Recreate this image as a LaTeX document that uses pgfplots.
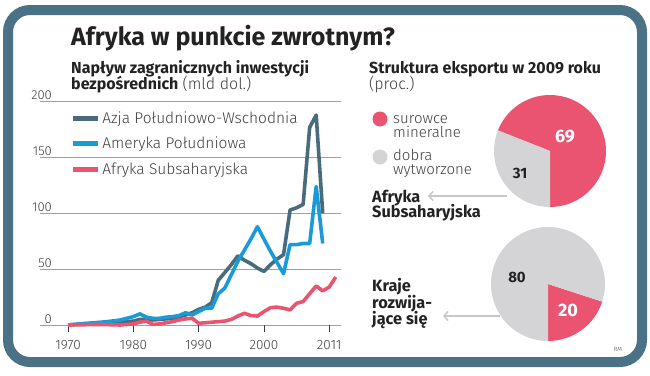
\documentclass[border=0pt]{standalone}
\usepackage{pgfplots}
\pgfplotsset{compat=1.18}
\usepackage{fontspec}
\setmainfont{Fira Sans}
\newfontfamily\lightfont{Fira Sans}[UprightFont={* Light}, BoldFont={* Bold}]
\usetikzlibrary{arrows.meta}
\definecolor{framec}{HTML}{4B7186}
\definecolor{darkc}{HTML}{4A6B7D}
\definecolor{bluec}{HTML}{1A9BD7}
\definecolor{pinkc}{HTML}{EA5470}
\definecolor{gridc}{HTML}{8FA6B2}
\definecolor{greyc}{HTML}{D4D4D6}
\definecolor{textc}{HTML}{222222}
\definecolor{lightt}{HTML}{3E3E3E}
\definecolor{arrowc}{HTML}{C8C8C8}
\begin{document}
\begin{tikzpicture}
\useasboundingbox (0pt,0pt) rectangle (650pt,-375pt);
\draw[framec, line width=10pt, rounded corners=22pt] (8pt,-10pt) rectangle (642pt,-362pt);
% titles
\node[anchor=base west, inner sep=0pt, font=\fontsize{25}{27}\selectfont\bfseries, text=textc] at (71pt,-45pt) {Afryka w punkcie zwrotnym?};
\node[anchor=base west, inner sep=0pt, font=\fontsize{16}{17}\selectfont, text=textc] at (71pt,-73pt) {\textbf{Napływ zagranicznych inwestycji}};
\node[anchor=base west, inner sep=0pt, font=\fontsize{16}{17}\selectfont, text=textc] at (71pt,-89pt) {\textbf{bezpośrednich} {\lightfont\color{lightt}(mld dol.)}};
\node[anchor=base west, inner sep=0pt, font=\fontsize{16}{17}\selectfont, text=textc] at (369pt,-73pt) {\textbf{Struktura eksportu w 2009 roku}};
\node[anchor=base west, inner sep=0pt, font=\lightfont\fontsize{16}{17}\selectfont, text=lightt] at (369pt,-89pt) {(proc.)};
% line chart
\begin{axis}[
  at={(40pt,-325pt)}, anchor=south west,
  scale only axis, width=301pt, height=223.3pt,
  xmin=1965.7, xmax=2011.8, ymin=0, ymax=200,
  clip=false,
  axis line style={draw=none},
  ymajorgrids, grid style={color=gridc, line width=0.9pt},
  ytick={0,50,100,150,200},
  xtick={1970,1980,1990,2000,2010},
  xticklabels={1970,1980,1990,2000,2011},
  tick pos=left, tick align=outside,
  major tick length=7pt,
  xtick style={draw=lightt, line width=0.8pt},
  ytick style={draw=none},
  /pgf/number format/assume math mode=true,
  yticklabel style={anchor=south east, xshift=20pt, yshift=0.5pt, inner sep=1pt, font=\lightfont\fontsize{13}{13}\selectfont, text=lightt},
  xticklabel style={yshift=-5pt, font=\lightfont\fontsize{13.5}{14}\selectfont, text=lightt},
  legend style={at={(0.09,0.975)}, anchor=north west, draw=none, fill=none,
    font=\lightfont\fontsize{15.5}{17}\selectfont, text=lightt, row sep=8.5pt},
  legend cell align=left,
  legend image code/.code={\draw[#1, line width=5pt, line cap=butt] (0pt,0pt) -- (25pt,0pt);},
  every axis plot/.append style={line width=3.6pt, line join=round},
]
\addplot[darkc] coordinates {
(1970,0) (1972,1) (1974,1.5) (1976,2) (1978,2.5) (1980,3.5) (1981,5) (1982,5) (1983,4.5)
(1984,5) (1985,5.5) (1986,6) (1987,7.5) (1988,9) (1989,11) (1990,14) (1991,16) (1992,20)
(1993,40) (1994,47) (1995,54) (1996,62) (1997,58) (1998,55) (1999,51) (2000,48) (2001,54)
(2002,59) (2003,63) (2004,103) (2005,105) (2006,108) (2007,177) (2008,188) (2009,100)};
\addlegendentry{Azja Południowo-Wschodnia}
\addplot[bluec] coordinates {
(1970,0) (1972,1) (1974,2) (1976,3) (1978,4.5) (1980,7.5) (1981,10) (1982,7) (1983,6)
(1984,6) (1985,7) (1986,7.5) (1987,8.5) (1988,11) (1989,9) (1990,12) (1991,15) (1992,15)
(1993,28) (1994,33) (1995,45) (1996,57) (1997,67) (1998,77) (1999,88) (2000,77) (2001,66)
(2002,56) (2003,46) (2004,72) (2005,72) (2006,73) (2007,73) (2008,124) (2009,73)};
\addlegendentry{Ameryka Południowa}
\addplot[pinkc] coordinates {
(1970,0) (1975,0.5) (1978,0) (1979,0.5) (1980,1) (1981,2.5) (1982,3.5) (1983,0.5) (1984,1)
(1985,2) (1986,3) (1987,4.5) (1988,5.5) (1989,6) (1990,1.5) (1991,2) (1992,2.5) (1993,3)
(1994,3.5) (1995,5) (1996,8) (1997,10.5) (1998,8.5) (1999,8) (2000,12) (2001,15.5) (2002,16)
(2003,15) (2004,13.5) (2005,19.5) (2006,21) (2007,28) (2008,35) (2009,30.5) (2010,34) (2011,43)};
\addlegendentry{Afryka Subsaharyjska}
\end{axis}
% pie legend
\fill[pinkc] (380pt,-119pt) circle (7.5pt);
\fill[greyc] (380pt,-157pt) circle (7.5pt);
\begin{scope}[every node/.style={anchor=base west, inner sep=0pt, font=\lightfont\fontsize{15}{16}\selectfont, text=lightt}]
\node at (393pt,-123pt) {surowce};
\node at (393pt,-137pt) {mineralne};
\node at (393pt,-160pt) {dobra};
\node at (393pt,-174pt) {wytworzone};
\end{scope}
% pies
\def\afA{69}\def\afB{31}\def\krA{20}\def\krB{80}
\pgfmathsetmacro\angA{-90+3.6*\afA}
\fill[pinkc] (550pt,-151pt) -- ++(-90:56pt) arc[start angle=-90, end angle=\angA, radius=56pt] -- cycle;
\fill[greyc] (550pt,-151pt) -- ++(\angA:56pt) arc[start angle=\angA, end angle=270, radius=56pt] -- cycle;
\pgfmathsetmacro\angB{-90+3.6*\krA}
\fill[pinkc] (548pt,-284pt) -- ++(-90:57pt) arc[start angle=-90, end angle=\angB, radius=57pt] -- cycle;
\fill[greyc] (548pt,-284pt) -- ++(\angB:57pt) arc[start angle=\angB, end angle=270, radius=57pt] -- cycle;
\node[text=white, font=\fontsize{18}{18}\selectfont\bfseries] at (565pt,-137pt) {\afA};
\node[text=textc, font=\fontsize{15}{15}\selectfont\bfseries] at (520pt,-173pt) {\afB};
\node[text=textc, font=\fontsize{15}{15}\selectfont\bfseries] at (517pt,-277pt) {\krB};
\node[text=white, font=\fontsize{18}{18}\selectfont\bfseries] at (568pt,-310pt) {\krA};
% arrows
\draw[arrowc, line width=1.5pt, -{Straight Barb[length=4pt, width=9pt]}] (507pt,-196pt) -- (428pt,-196pt);
\draw[arrowc, line width=1.5pt, -{Straight Barb[length=4pt, width=9pt]}] (500pt,-316pt) -- (443pt,-316pt);
% labels
\begin{scope}[every node/.style={anchor=base west, inner sep=0pt, font=\fontsize{16.3}{17}\selectfont\bfseries, text=textc}]
\node at (372pt,-202pt) {Afryka};
\node at (372pt,-217pt) {Subsaharyjska};
\node at (372pt,-291pt) {Kraje};
\node at (372pt,-308pt) {rozwija-};
\node at (372pt,-324pt) {jące się};
\end{scope}
\node[font=\lightfont\fontsize{6}{6}\selectfont, text=lightt] at (618pt,-349pt) {RM};
\end{tikzpicture}
\end{document}
